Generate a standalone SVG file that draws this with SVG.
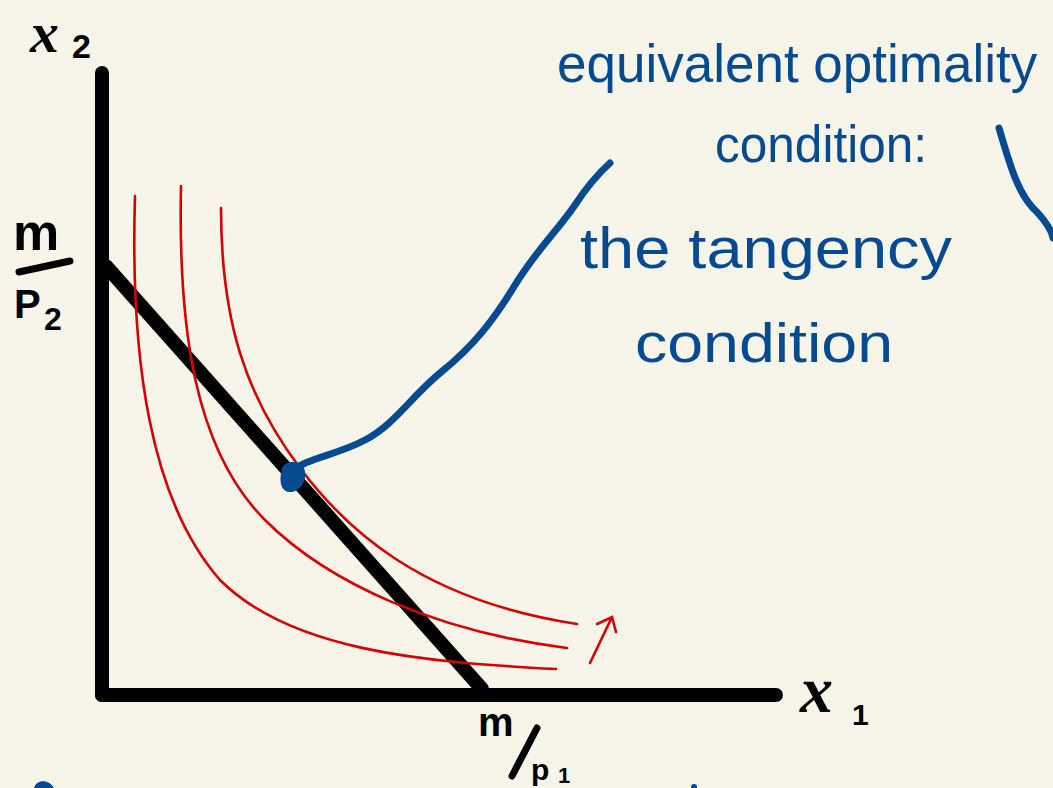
<svg xmlns="http://www.w3.org/2000/svg" width="1053" height="788" viewBox="0 0 1053 788">
<defs>
<style>
.axis{stroke:#000;stroke-width:14;stroke-linecap:round;fill:none}
.ic{stroke:#d80000;stroke-width:2.6;fill:none;stroke-linecap:round}
.blue{stroke:#064a91;fill:none;stroke-linecap:round;stroke-linejoin:round}
.lbl{font-family:"Liberation Sans",Arial,sans-serif;font-weight:bold;fill:#000}
.var{font-family:"Liberation Serif","Times New Roman",serif;font-style:italic;font-weight:bold;fill:#000}
.note{font-family:"Liberation Sans",Arial,sans-serif;fill:#064a91}
.stroke{stroke:#000;stroke-width:7;stroke-linecap:round}
</style>
</defs>
<rect width="1053" height="788" fill="#f7f5e9"/>

<g id="axes">
<line class="axis" x1="102" y1="73" x2="102" y2="695"/>
<line class="axis" x1="102" y1="695" x2="776" y2="695"/>
</g>

<g id="budget-line">
<line class="axis" x1="106" y1="266" x2="482" y2="689"/>
</g>

<g id="indifference-curves">
<path class="ic" d="M135,196 C130,360 150,500 220,580 C290,650 420,662 556,669"/>
<path class="ic" d="M181,186 C178,330 195,450 265,520 C330,585 440,632 567,648"/>
<path class="ic" d="M221,208 C221,320 245,395 300,468 C345,528 420,600 577,624"/>
<path class="ic" stroke-width="3.2" d="M590,663 L612,617 M597,624 L612,617 L616,632"/>
</g>

<g id="tangency-point">
<path class="blue" stroke-width="7" d="M292,472 C305,458 335,456 365,440 C395,424 410,398 440,373 C475,345 495,318 515,285 C538,248 558,230 575,205 C590,182 600,172 610,163"/>
<path fill="#064a91" d="M282,468 C286,460 300,460 304,468 C308,478 302,490 292,492 C282,493 278,484 282,468 Z"/>
</g>

<g id="labels">
<text class="var" x="30" y="52" font-size="58">x</text>
<text class="lbl" x="72" y="58" font-size="34">2</text>
<text class="lbl" x="13" y="250" font-size="52">m</text>
<line class="stroke" x1="19" y1="272" x2="70" y2="261"/>
<text class="lbl" x="14" y="318" font-size="40">P</text>
<text class="lbl" x="44" y="330" font-size="32">2</text>
<text class="var" x="800" y="712" font-size="66">x</text>
<text class="lbl" x="852" y="725" font-size="30">1</text>
<text class="lbl" x="478" y="736" font-size="40">m</text>
<line class="stroke" x1="537" y1="728" x2="512" y2="776"/>
<text class="lbl" x="531" y="780" font-size="30">p</text>
<text class="lbl" x="558" y="783" font-size="22">1</text>
</g>

<g id="annotation">
<text class="note" x="557" y="82" font-size="53">equivalent optimality</text>
<text class="note" x="715" y="162" font-size="52" textLength="212" lengthAdjust="spacingAndGlyphs">condition:</text>
<text class="note" x="580" y="268" font-size="58" textLength="372" lengthAdjust="spacingAndGlyphs">the tangency</text>
<text class="note" x="635" y="362" font-size="56" textLength="258" lengthAdjust="spacingAndGlyphs">condition</text>
<path class="blue" stroke-width="7" d="M999,128 C1010,165 1018,195 1037,212 C1046,222 1052,232 1053,238"/>
<path fill="#064a91" d="M34,788 C36,780 48,778 54,788 Z"/>
<circle cx="694" cy="787" r="3" fill="#064a91"/>
</g>
</svg>
